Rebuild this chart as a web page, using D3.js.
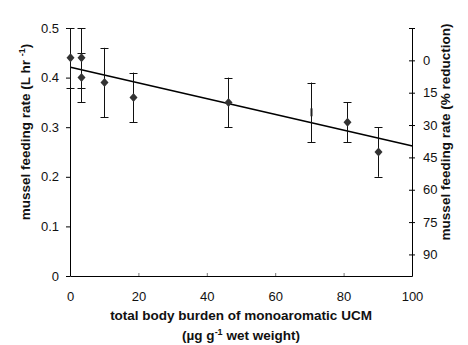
<!DOCTYPE html>
<html>
<head>
<meta charset="utf-8">
<script src="https://cdn.jsdelivr.net/npm/d3@7"></script>
<style>
  html, body { margin: 0; padding: 0; background: #fff; }
  svg { display: block; font-family: "Liberation Sans", Arial, sans-serif; }
</style>
</head>
<body>
<div id="chart"></div>
<script>
// measured points: body burden (ug/g) vs feeding rate (L/hr), +/- error
const burden  = [0, 3.2, 3.2, 10, 18.4, 46.2, 70.5, 81, 90];
const rate    = [0.44, 0.44, 0.40, 0.39, 0.36, 0.35, 0.33, 0.31, 0.25];
const rateErr = [0.06, 0.06, 0.05, 0.07, 0.05, 0.05, 0.06, 0.04, 0.05];
const hasMarker = [true, true, true, true, true, true, false, true, true];

// regression line end points
const fitX = [0, 100];
const fitY = [0.421, 0.262];

const xTicks = [0, 20, 40, 60, 80, 100];
const yTicks = [0, 0.1, 0.2, 0.3, 0.4, 0.5];
const rightTicks = [-15, 0, 15, 30, 45, 60, 75, 90];
const rightLabels = ["", "0", "15", "30", "45", "60", "75", "90"];

const width = 468;
const height = 345;
const marginLeft = 70;
const marginRight = 56;
const marginTop = 28;
const marginBottom = 69;
const titleSize = "13.5px";

const svg = d3.select("#chart")
  .append("svg")
  .attr("width", width)
  .attr("height", height)
  .attr("viewBox", [0, 0, width, height]);

const x = d3.scaleLinear()
  .domain([0, 100])
  .range([marginLeft, width - marginRight]);

const y = d3.scaleLinear()
  .domain([0, 0.5])
  .range([height - marginBottom, marginTop]);

// right axis (% reduction) runs downwards
const yr = d3.scaleLinear()
  .domain([100, -15])
  .range([height - marginBottom, marginTop]);

// diamond marker
const diamond = {
  draw(context, size) {
    const w = 4, h = 4.5;
    context.moveTo(0, -h);
    context.lineTo(w, 0);
    context.lineTo(0, h);
    context.lineTo(-w, 0);
    context.closePath();
  }
};

// x axis, small ticks pointing inwards
const gx = svg.append("g")
  .attr("transform", `translate(0,${height - marginBottom})`)
  .call(d3.axisBottom(x).tickValues(xTicks).tickSizeInner(-3).tickSizeOuter(0).tickPadding(16));
gx.selectAll(".tick line").attr("stroke", "#777");

// left axis
svg.append("g")
  .attr("transform", `translate(${marginLeft},0)`)
  .call(d3.axisLeft(y).tickValues(yTicks).tickSize(4).tickSizeOuter(0).tickPadding(7)
    .tickFormat(d => d === 0 ? "0" : d3.format(".1f")(d)));

// right axis, ticks crossing the line
const gr = svg.append("g")
  .attr("transform", `translate(${width - marginRight},0)`)
  .call(d3.axisRight(yr).tickValues(rightTicks).tickSize(3).tickSizeOuter(0).tickPadding(8)
    .tickFormat((d, i) => rightLabels[i]));
gr.selectAll(".tick line").attr("x1", -3);

svg.selectAll(".domain").attr("stroke", "#000");
svg.selectAll(".tick text")
  .attr("fill", "#111")
  .style("font-size", "13px")
  .style("font-family", "'Liberation Sans', Arial, sans-serif");

// regression line
svg.append("line")
  .attr("x1", x(fitX[0]) + 0.5)
  .attr("y1", y(fitY[0]))
  .attr("x2", x(fitX[1]) + 0.5)
  .attr("y2", y(fitY[1]))
  .attr("stroke", "#000")
  .attr("stroke-width", 1.6);

const pts = burden.map((b, i) => ({b, r: rate[i], e: rateErr[i], m: hasMarker[i]}));

// error bars
const eb = svg.append("g")
  .attr("stroke", "#111")
  .attr("stroke-width", 1)
  .selectAll("g")
  .data(pts)
  .join("g");

eb.append("line")
  .attr("x1", d => Math.round(x(d.b)) + 0.5)
  .attr("x2", d => Math.round(x(d.b)) + 0.5)
  .attr("y1", d => y(d.r + d.e))
  .attr("y2", d => y(d.r - d.e));

eb.selectAll(".cap")
  .data(d => [d.r + d.e, d.r - d.e].map(v => ({b: d.b, v})))
  .join("line")
  .attr("class", "cap")
  .attr("x1", d => Math.round(x(d.b)) - 3.5)
  .attr("x2", d => Math.round(x(d.b)) + 4.5)
  .attr("y1", d => Math.round(y(d.v)) + 0.5)
  .attr("y2", d => Math.round(y(d.v)) + 0.5);

// point without visible marker: short dark bit on the line
svg.append("g")
  .selectAll("line")
  .data(pts.filter(d => !d.m))
  .join("line")
  .attr("x1", d => Math.round(x(d.b)) + 0.5)
  .attr("x2", d => Math.round(x(d.b)) + 0.5)
  .attr("y1", d => y(d.r + 0.008))
  .attr("y2", d => y(d.r - 0.008))
  .attr("stroke", "#222")
  .attr("stroke-width", 2);

// markers
svg.append("g")
  .selectAll("path")
  .data(pts.filter(d => d.m))
  .join("path")
  .attr("d", d3.symbol(diamond))
  .attr("transform", d => `translate(${Math.round(x(d.b)) + 0.5},${y(d.r)})`)
  .attr("fill", "#333");

// axis titles
const leftTitle = svg.append("text")
  .attr("transform", `translate(30,132) rotate(-90)`)
  .attr("text-anchor", "middle")
  .style("font-size", titleSize)
  .style("font-weight", "bold")
  .attr("fill", "#111");
leftTitle.append("tspan").text("mussel feeding rate (L hr ");
leftTitle.append("tspan").attr("dy", -5).style("font-size", "9px").text("-1");
leftTitle.append("tspan").attr("dy", 5).text(")");

svg.append("text")
  .attr("transform", `translate(450,132) rotate(-90)`)
  .attr("text-anchor", "middle")
  .style("font-size", titleSize)
  .style("font-weight", "bold")
  .attr("fill", "#111")
  .text("mussel feeding rate (% reduction)");

const cx = (x(0) + x(100)) / 2;
svg.append("text")
  .attr("x", cx)
  .attr("y", 320)
  .attr("text-anchor", "middle")
  .style("font-size", titleSize)
  .style("font-weight", "bold")
  .attr("fill", "#111")
  .text("total body burden of monoaromatic UCM");

const unit = svg.append("text")
  .attr("x", cx)
  .attr("y", 340)
  .attr("text-anchor", "middle")
  .style("font-size", titleSize)
  .style("font-weight", "bold")
  .attr("fill", "#111");
unit.append("tspan").text("(µg g");
unit.append("tspan").attr("dy", -5).style("font-size", "9px").text("-1");
unit.append("tspan").attr("dy", 5).text(" wet weight)");
</script>
</body>
</html>
